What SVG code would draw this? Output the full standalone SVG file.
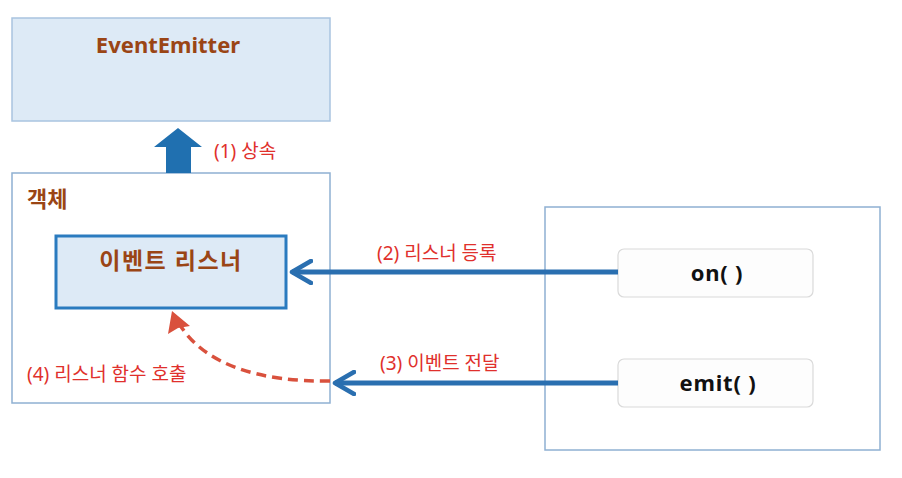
<svg xmlns="http://www.w3.org/2000/svg" width="902" height="478" viewBox="0 0 902 478">
<defs>
<style>
.lbl{font-family:"Noto Sans","Noto Sans CJK KR",sans-serif;font-size:19px;fill:#e0302c}
.brown{font-family:"Noto Sans","Noto Sans CJK KR",sans-serif;font-weight:bold;fill:#9a4515}
.fn{font-family:"Noto Sans","Noto Sans CJK KR",sans-serif;font-weight:bold;font-size:22px;letter-spacing:0.8px;fill:#111}
.frame{fill:#fff;stroke:#8fb0d2;stroke-width:1.5}
.btn{fill:#fdfdfd;stroke:#dadada;stroke-width:1.2}
.blue{stroke:#2a6fb0;stroke-width:5;fill:none}
</style>
<marker id="chev" viewBox="0 0 24 26" refX="21" refY="13" markerWidth="24" markerHeight="26" markerUnits="userSpaceOnUse" orient="auto">
<path d="M2,2 L21,13 L2,24" fill="none" stroke="#2a6fb0" stroke-width="4.5" stroke-linecap="round" stroke-linejoin="round"/>
</marker>
</defs>
<g id="eventemitter">
<rect x="12" y="18" width="318" height="103" fill="#ddeaf6" stroke="#a9c4e0" stroke-width="1.5"/>
<text x="168" y="53" text-anchor="middle" class="brown" font-size="22">EventEmitter</text>
</g>
<g id="object">
<rect x="12" y="173" width="318" height="230" class="frame"/>
<text x="27" y="207" class="brown" font-size="22">객체</text>
</g>
<g id="listener">
<rect x="56" y="236" width="230" height="72" fill="#ddeaf6" stroke="#2a7bbf" stroke-width="3"/>
<text x="171" y="269" text-anchor="middle" class="brown" font-size="23" letter-spacing="1.5">이벤트 리스너</text>
</g>
<g id="emitter">
<rect x="545" y="207" width="335" height="243" class="frame"/>
</g>
<g id="on">
<rect x="618" y="249" width="195" height="48" rx="6" class="btn"/>
<text x="717" y="281" text-anchor="middle" class="fn">on( )</text>
</g>
<g id="emit">
<rect x="618" y="359" width="195" height="48" rx="6" class="btn"/>
<text x="718" y="391" text-anchor="middle" class="fn">emit( )</text>
</g>
<g id="connectors">
<path d="M166,173 L166,147 L154,147 L178,128 L202,147 L191,147 L191,173 Z" fill="#2070b0"/>
<text x="214" y="158" class="lbl">(1) 상속</text>
<path d="M618,272 L292,272" class="blue" marker-end="url(#chev)"/>
<text x="377" y="260" class="lbl">(2) 리스너 등록</text>
<path d="M618,383 L335,383" class="blue" marker-end="url(#chev)"/>
<text x="380" y="370" class="lbl">(3) 이벤트 전달</text>
<path d="M330,381 C260,382 205,365 180,325" fill="none" stroke="#d9513d" stroke-width="3.5" stroke-dasharray="10,6"/>
<path d="M172,311 L168,334 L178,328 L190,326 Z" fill="#d9513d"/>
<text x="27" y="381" class="lbl">(4) 리스너 함수 호출</text>
</g>
</svg>
